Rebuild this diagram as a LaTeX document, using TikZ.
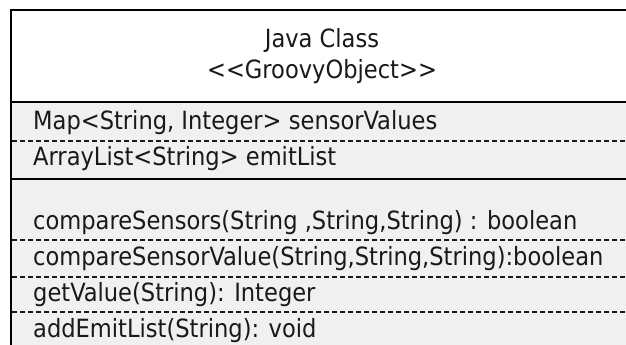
\documentclass[tikz,border=0pt]{standalone}
\usepackage{fontspec}
\setmainfont{DejaVu Sans Condensed}
\begin{document}
\begin{tikzpicture}[x=1pt,y=-1pt,
  member/.style={anchor=base west,inner sep=0pt,font=\fontsize{25.1}{30}\selectfont,text=black!90},
  title/.style={anchor=base,inner sep=0pt,font=\fontsize{25.1}{30}\selectfont,text=black!90},
  frame/.style={draw=black,line width=2pt},
  divider/.style={draw=black!90,line width=1.4pt,dash pattern=on 5pt off 3pt}]
\useasboundingbox (0,0) rectangle (626,345);
\clip (0,0) rectangle (626,345);
% compartments
\fill[white] (11,10) rectangle (633,102);
\fill[black!6] (11,102) rectangle (633,360);
\draw[frame] (11,10) rectangle (633,360);
\draw[frame] (11,102) -- (633,102);
\draw[frame] (11,179) -- (633,179);
% separators between members
\foreach \y in {141,240,277,312}
  \draw[divider] (12,\y) -- (633,\y);
% class name and stereotype
\node[title] (name) at (322,48) {Java Class};
\node[title] (stereo) at (322,78) {<{}<GroovyObject>{}>};
% attributes
\node[member] (a1) at (33,129) {Map<String, Integer> sensorValues};
\node[member] (a2) at (33,165) {ArrayList<String> emitList};
% operations
\node[member] (m1) at (33,229) {compareSensors(String ,String,String) : boolean};
\node[member] (m2) at (33,265) {compareSensorValue(String,String,String):boolean};
\node[member] (m3) at (33,301) {getValue(String): Integer};
\node[member] (m4) at (33,337) {addEmitList(String): void};
\end{tikzpicture}
\end{document}
